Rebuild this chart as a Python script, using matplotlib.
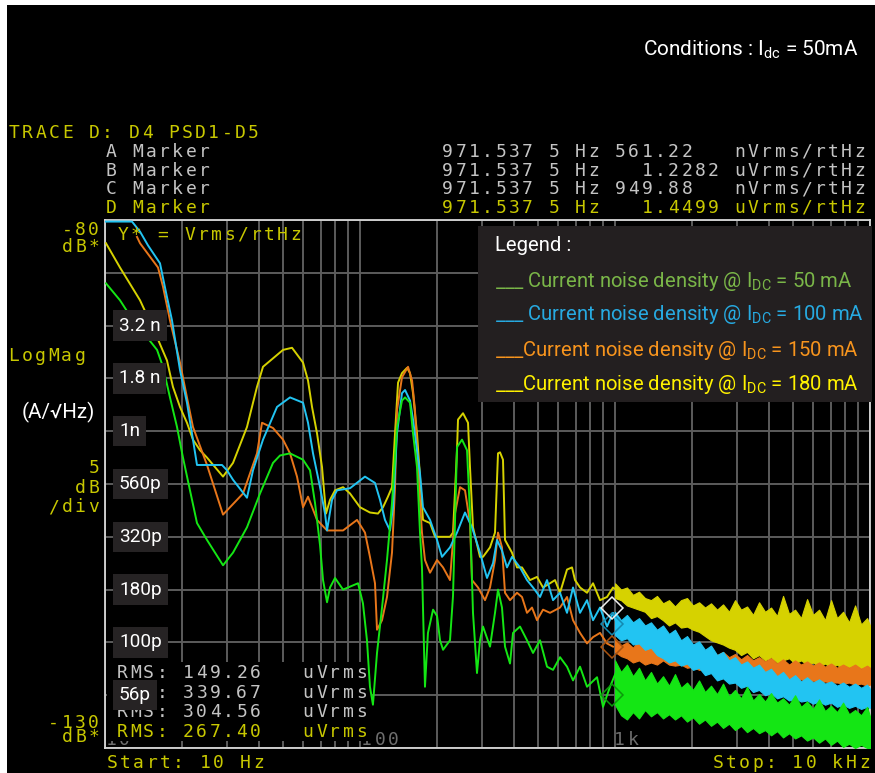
import numpy as np
import matplotlib
matplotlib.use('Agg')
import matplotlib.pyplot as plt
from matplotlib.patches import Rectangle
from matplotlib.transforms import blended_transform_factory

W, H = 875, 773

# Trace A : Idc = 50 mA  (frequency in Hz, level in dB re 1 Vrms/rtHz)
freq_a = [10.09, 11.45, 12.87, 14.61, 16.00, 16.88, 17.98, 19.16, 20.22, 21.54, 22.95, 25.12,
          29.03, 31.77, 36.04, 40.54, 45.59, 48.57, 53.16, 59.78, 63.68, 66.62, 69.70, 71.62,
          74.25, 76.29, 79.81, 85.80, 93.90, 98.24, 102.7, 106.5, 109.4, 112.4, 116.6, 122.0,
          127.6, 133.5, 139.7, 146.1, 150.2, 157.1, 161.4, 167.3, 171.9, 175.0, 179.8, 184.7,
          193.4, 200.5, 206.0, 211.7, 225.4, 231.6, 240.1, 251.2, 262.8, 270.0, 277.4, 287.6,
          295.5, 303.6, 323.5, 338.4, 347.7, 360.4, 370.4, 387.5, 398.2, 424.1, 451.8, 477.0,
          508.1, 541.3, 571.4, 608.7, 648.4, 684.5, 729.2, 776.8, 850.2, 897.6, 956.1, 1018]
lvl_a = [-86.0, -87.6, -89.5, -91.1, -92.3, -93.9, -96.8, -99.6, -102.5, -105.6, -108.7, -110.3,
         -112.7, -111.5, -109.1, -105.9, -103.0, -102.3, -102.1, -102.7, -103.7, -106.8, -110.8, -114.1,
         -116.2, -114.8, -113.9, -115.0, -114.6, -114.4, -116.3, -119.8, -124.2, -125.9, -121.0, -116.7,
         -112.2, -106.8, -99.6, -97.1, -96.8, -97.3, -100.2, -103.4, -109.6, -112.9, -124.2, -119.1,
         -116.9, -117.5, -119.8, -120.7, -119.8, -115.6, -101.5, -100.8, -101.8, -107.8, -117.2, -122.9,
         -119.8, -118.5, -120.4, -117.2, -115.0, -116.7, -120.4, -122.0, -119.1, -118.5, -119.8, -121.0,
         -119.8, -122.3, -122.6, -121.4, -122.3, -123.6, -122.3, -124.2, -123.3, -126.1, -124.2, -122.6]

# Trace B : Idc = 100 mA
freq_b = [10.0, 12.76, 13.72, 14.74, 16.43, 17.50, 18.31, 19.68, 20.96, 22.13, 22.95, 28.76,
          30.09, 31.77, 36.04, 38.06, 41.65, 47.27, 53.16, 59.78, 62.54, 65.43, 69.70, 72.92,
          74.25, 77.68, 81.26, 91.39, 104.6, 114.5, 119.8, 125.3, 131.1, 134.7, 139.7, 146.1,
          150.2, 157.1, 161.4, 167.3, 171.9, 176.6, 188.2, 200.5, 209.7, 225.4, 240.1, 258.1,
          274.9, 295.5, 314.8, 332.4, 344.6, 360.4, 377.1, 394.5, 424.1, 451.8, 477.0, 508.1,
          541.3, 571.4, 608.7, 648.4, 684.5, 729.2, 776.8, 820.1, 873.6, 930.5, 982.4, 1046]
lvl_b = [-80.15, -80.15, -81.1, -82.4, -84.1, -87.3, -89.5, -94.2, -97.3, -100.8, -103.2, -103.2,
         -103.7, -104.6, -106.3, -103.7, -100.8, -97.7, -96.8, -97.3, -99.2, -102.1, -105.3, -107.8,
         -109.4, -106.5, -105.6, -105.4, -104.3, -104.9, -106.5, -108.4, -109.4, -107.2, -100.2, -96.4,
         -96.1, -97.1, -98.9, -101.8, -104.0, -107.2, -108.4, -110.3, -111.9, -111.0, -109.6, -107.7,
         -109.1, -111.5, -113.9, -112.5, -110.3, -111.3, -112.9, -111.9, -112.9, -114.1, -114.8, -115.7,
         -114.1, -116.0, -115.3, -117.2, -114.8, -117.2, -116.0, -117.9, -116.7, -118.5, -117.2, -119.1]

# Trace C : Idc = 150 mA
freq_c = [13.35, 13.72, 16.14, 16.88, 17.98, 19.68, 20.96, 22.13, 25.12, 29.03, 34.77, 39.45,
          41.28, 45.59, 49.91, 53.16, 56.62, 59.78, 62.54, 67.83, 74.25, 85.80, 97.35, 104.6,
          109.4, 114.5, 116.6, 122.0, 127.6, 133.5, 137.2, 139.7, 146.1, 154.3, 160.0, 164.3,
          168.8, 175.0, 179.8, 188.2, 200.5, 211.7, 225.4, 235.8, 246.7, 258.1, 270.0, 274.9,
          290.3, 309.2, 323.5, 338.4, 347.7, 360.4, 370.4, 387.5, 412.8, 431.8, 451.8, 472.6,
          494.5, 522.1, 556.1, 608.7, 648.4, 684.5, 729.2, 776.8, 820.1, 873.6, 930.5, 982.4]
lvl_c = [-81.6, -82.2, -84.5, -86.3, -89.5, -93.5, -96.8, -99.6, -103.2, -107.9, -105.9, -102.1,
         -99.2, -99.7, -100.8, -102.1, -104.3, -107.2, -106.2, -108.4, -109.4, -109.4, -108.4, -109.6,
         -111.9, -114.4, -118.8, -117.9, -115.7, -111.5, -105.3, -98.0, -94.9, -93.9, -95.2, -98.0,
         -103.4, -109.6, -112.2, -113.4, -112.2, -112.9, -114.1, -107.8, -105.3, -105.6, -108.7, -114.1,
         -114.8, -116.0, -114.8, -112.2, -109.6, -111.0, -115.3, -116.0, -115.3, -115.7, -117.2, -116.7,
         -117.9, -116.9, -117.2, -116.7, -115.7, -117.9, -119.1, -120.1, -119.5, -119.1, -120.1, -120.4]

# Trace D : Idc = 180 mA
freq_d = [10.09, 11.45, 13.72, 16.00, 17.50, 18.47, 19.68, 20.96, 22.13, 23.58, 25.12, 29.03,
          31.77, 36.04, 39.45, 41.65, 49.91, 54.13, 59.78, 62.54, 64.84, 67.83, 70.97, 73.58,
          76.29, 79.81, 85.80, 91.39, 100.0, 109.4, 117.6, 123.1, 128.7, 133.5, 137.2, 141.0,
          146.1, 152.9, 157.1, 161.4, 167.3, 171.9, 176.6, 188.2, 196.9, 206.0, 225.4, 231.6,
          240.1, 242.3, 253.5, 265.2, 270.0, 277.4, 295.5, 303.6, 323.5, 338.4, 347.7, 354.0,
          363.7, 370.4, 394.5, 412.8, 431.8, 464.2, 494.5, 522.1, 556.1, 581.8, 608.7, 648.4,
          678.3, 697.0, 729.2, 776.8, 820.1, 873.6, 930.5, 982.4, 1046]
lvl_d = [-82.2, -84.5, -87.6, -91.1, -93.3, -95.8, -97.7, -99.2, -100.8, -101.8, -102.5, -104.3,
         -103.0, -99.6, -95.8, -93.9, -92.3, -92.1, -93.5, -95.2, -97.7, -100.2, -103.4, -107.8,
         -106.5, -105.6, -105.3, -105.9, -107.2, -107.7, -107.8, -107.2, -106.2, -105.3, -100.2, -95.4,
         -94.5, -94.0, -94.5, -96.4, -100.2, -104.3, -108.4, -108.7, -110.0, -110.0, -110.0, -109.6,
         -101.8, -98.9, -98.3, -99.2, -103.4, -109.1, -111.9, -111.9, -111.0, -109.6, -102.1, -102.0,
         -102.7, -110.3, -111.5, -112.9, -112.9, -114.1, -113.8, -114.8, -114.4, -114.1, -115.3, -113.1,
         -112.9, -114.1, -114.8, -115.3, -114.4, -116.0, -115.7, -114.8, -115.3]

# Above 1 kHz the traces are dense noise: upper / lower edge of each band
band_f = [1000, 1056, 1114, 1176, 1242, 1311, 1384, 1461, 1543, 1629, 1719, 1815, 1916, 2023, 2136,
          2254, 2380, 2513, 2653, 2800, 2956, 3121, 3295, 3479, 3672, 3877, 4093, 4321, 4561, 4815,
          5084, 5367, 5666, 5981, 6314, 6666, 7037, 7429, 7843, 8280, 8741, 9228, 9742, 10000]
hi_a = [-121.7, -122.8, -122.1, -123.2, -122.4, -123.6, -122.8, -123.9, -123.2, -124.1, -123.0,
        -124.3, -123.8, -124.5, -123.6, -124.7, -124.1, -124.9, -123.9, -125.1, -124.5, -125.3,
        -124.2, -125.5, -124.9, -125.6, -124.8, -125.7, -125.3, -125.9, -125.0, -126.1, -125.6,
        -126.3, -125.4, -126.5, -126.0, -126.6, -125.7, -126.8, -126.4, -126.9, -126.1, -127.0]
lo_a = [-125.9, -126.9, -127.3, -126.6, -127.2, -126.4, -127.0, -126.6, -127.2, -126.8, -127.3,
        -126.9, -127.5, -127.1, -127.7, -127.3, -127.9, -127.5, -128.1, -127.7, -128.3, -127.9,
        -128.5, -128.1, -128.6, -128.3, -128.8, -128.4, -129.0, -128.6, -129.1, -128.8, -129.3,
        -129.0, -129.5, -129.1, -129.7, -129.3, -129.9, -129.6, -130.0, -129.7, -130.0, -130.0]
hi_b = [-117.1, -117.9, -117.4, -118.1, -117.7, -118.4, -118.1, -118.8, -118.4, -119.2, -118.8,
        -119.8, -119.4, -120.2, -119.9, -120.7, -120.3, -121.2, -120.9, -121.7, -121.4, -122.1,
        -121.8, -122.4, -122.1, -122.8, -122.5, -123.2, -122.8, -123.5, -123.1, -123.7, -123.3,
        -123.8, -123.5, -123.9, -123.7, -124.1, -123.8, -124.2, -123.9, -124.3, -124.0, -124.4]
lo_b = [-119.3, -119.8, -119.6, -120.2, -120.1, -120.7, -120.5, -121.2, -121.5, -121.9, -121.7,
        -122.2, -122.0, -122.6, -122.4, -123.1, -122.9, -123.6, -123.4, -123.9, -123.8, -124.3,
        -124.1, -124.7, -124.5, -125.0, -124.8, -125.3, -125.1, -125.5, -125.3, -125.6, -125.5,
        -125.8, -125.6, -125.9, -125.7, -126.1, -125.9, -126.2, -126.0, -126.3, -126.1, -126.2]
hi_c = [-119.6, -120.3, -120.0, -120.5, -119.8, -120.3, -120.0, -120.5, -119.9, -120.4, -120.1,
        -120.6, -120.3, -120.8, -120.5, -121.0, -120.7, -121.2, -120.9, -121.4, -121.1, -121.6,
        -121.2, -121.7, -121.4, -121.8, -121.5, -122.0, -121.6, -122.1, -121.7, -122.1, -121.8,
        -122.2, -121.9, -122.3, -122.0, -122.4, -122.1, -122.4, -122.1, -122.5, -122.2, -122.4]
lo_c = [-120.9, -121.3, -121.5, -121.9, -121.7, -122.1, -121.9, -122.1, -121.7, -122.1, -122.2,
        -122.1, -122.4, -122.3, -122.6, -122.5, -122.8, -122.7, -123.0, -122.9, -123.1, -123.0,
        -123.2, -123.1, -123.3, -123.2, -123.4, -123.3, -123.5, -123.4, -123.6, -123.5, -123.7,
        -123.6, -123.8, -123.7, -123.8, -123.8, -123.9, -123.8, -124.0, -123.9, -124.1, -124.0]
hi_d = [-114.4, -115.0, -114.8, -115.5, -115.2, -115.8, -116.0, -115.6, -116.3, -116.0, -116.6,
        -116.0, -115.8, -116.5, -116.2, -116.7, -116.3, -116.9, -116.4, -117.1, -116.0, -116.9,
        -116.6, -117.4, -116.2, -117.1, -116.7, -117.5, -115.6, -117.3, -116.9, -117.7, -115.9,
        -117.4, -116.9, -117.9, -116.0, -117.7, -117.1, -118.1, -116.5, -118.3, -117.7, -118.4]
lo_d = [-115.8, -116.0, -116.5, -116.7, -116.9, -117.1, -117.7, -117.5, -117.9, -118.4, -118.1,
        -118.6, -118.5, -118.8, -119.0, -119.4, -119.8, -120.0, -120.2, -120.5, -120.7, -121.2,
        -120.9, -121.5, -121.2, -121.7, -121.4, -121.9, -121.7, -121.5, -122.0, -121.7, -122.1,
        -121.9, -122.3, -122.0, -122.4, -122.1, -122.6, -122.3, -122.8, -122.4, -122.8, -122.6]

# Marker readouts (Vrms/rtHz) and integrated RMS (uVrms)
marker_f = 971.5375
marker_v = [561.22e-9, 1.2282e-6, 949.88e-9, 1.4499e-6]
rms_uv = [149.26, 339.67, 304.56, 267.40]

# Labels in A/rtHz at every 5 dB from -90 to -125
ylab_txt = ['3.2 n', '1.8 n', '1n', '560p', '320p', '180p', '100p', '56p']
ylab_db = [-90, -95, -100, -105, -110, -115, -120, -125]

legend_txt = ['50 mA', '100 mA', '150 mA', '180 mA']

c_a, c_b, c_c, c_d = '#14e614', '#22c4f2', '#e8761a', '#d6d200'
leg_col = ['#7ab648', '#27aae1', '#f7941d', '#fff200']
yel, gry = '#c8c800', '#c4c4c4'
sans = 'Roboto'

fig = plt.figure(figsize=(W / 100, H / 100), dpi=100, facecolor='white')
fig.add_artist(Rectangle((7 / W, 0), 1, 1 - 5 / H, transform=fig.transFigure,
                         facecolor='black', edgecolor='none', zorder=-10))

ax = fig.add_axes([105 / W, 1 - 748 / H, 765 / W, 528 / H])
ax.set_facecolor('black')
ax.set_xscale('log')
ax.set_xlim(10, 10000)
ax.set_ylim(-130, -80)
ax.set_xticks([10, 100, 1000, 10000])
ax.set_xticks([m * d for d in (10, 100, 1000) for m in range(2, 10)], minor=True)
ax.set_yticks(np.arange(-130, -79, 5))
ax.tick_params(which='both', length=0, labelbottom=False, labelleft=False)
ax.grid(which='both', color='#5c5c5c', lw=1.4, zorder=0.5)
ax.set_axisbelow(True)
for sp in ax.spines.values():
    sp.set_color('#d8d8d8')
    sp.set_linewidth(1.3)


def px(x, y):
    return x / W, 1 - y / H


def mono(x0, base, s, color, target=None, z=5, pitch=13.3):
    # fixed pitch text like the analyser screen
    tgt = fig if target is None else target
    for i, ch in enumerate(s):
        if ch == ' ':
            continue
        tgt.text(*px(x0 + pitch * (i + 0.5), base), ch, transform=fig.transFigure,
                 ha='center', va='baseline', family='DejaVu Sans Mono', fontsize=13,
                 color=color, zorder=z)


def fit(ref, texts, width):
    # scale font size so that ref spans the given pixel width
    r = fig.canvas.get_renderer()
    k = width / ref.get_window_extent(r).width
    for t in texts:
        t.set_fontsize(t.get_fontsize() * k)


# frequency labels under the traces
for lab, x0 in [('10', 104.5), ('100', 360), ('1k', 613)]:
    mono(x0, 745, lab, '#6e6e6e', target=ax, z=1.2)

# RMS block with black background
ax.add_patch(Rectangle(px(107, 741), (372 - 107) / W, (741 - 662) / H, transform=fig.transFigure,
                       facecolor='black', edgecolor='none', zorder=1.5))
for i, v in enumerate(rms_uv):
    mono(115.3, 678 + 19.6 * i, f'RMS: {v:6.2f}   uVrms', yel if i == 3 else gry, target=ax, z=1.6)

# traces
for f, l, hi, lo, col, z in [(freq_d, lvl_d, hi_d, lo_d, c_d, 3), (freq_c, lvl_c, hi_c, lo_c, c_c, 4),
                             (freq_b, lvl_b, hi_b, lo_b, c_b, 5), (freq_a, lvl_a, hi_a, lo_a, c_a, 6)]:
    ax.fill_between(band_f, lo, hi, color=col, lw=0.8, zorder=z)
    ax.plot(f, l, color=col, lw=1.4, zorder=z)

# markers at 971.5 Hz
marker_db = [20 * np.log10(v) for v in marker_v]
for v, mc in zip(marker_db, ['#0a9a0a', '#1488b0', '#a8520e', '#f0f0f0']):
    ax.plot([marker_f], [v], 'D', mfc='none', mec=mc, ms=11, mew=1.1, zorder=7)

mono(116.4, 240, 'Y* = Vrms/rtHz', yel, target=ax, z=8)

# header
mono(7.4, 138, 'TRACE D: D4 PSD1-D5', yel)
for i, (name, v) in enumerate(zip('ABCD', marker_v)):
    col = yel if name == 'D' else gry
    base = 157 + 18.6 * i
    val = f'{v * 1e9:6.2f}   nVrms/rtHz' if v < 1e-6 else f'{v * 1e6:8.4f} uVrms/rtHz'
    mono(104.4, base, name + ' Marker', col)
    mono(440.8, base, '971.537 5 Hz ' + val, col)

# left scale text
mono(60.5, 235, '-80', yel)
mono(60.5, 252, 'dB*', yel)
mono(6.8, 361, 'LogMag', yel)
mono(87.4, 473, '5', yel)
mono(74.0, 493, 'dB', yel)
mono(47.0, 512, '/div', yel)
mono(47.0, 728, '-130', yel)
mono(60.5, 742, 'dB*', yel)
mono(105.3, 768, 'Start: 10 Hz', yel)
mono(711.3, 768, 'Stop: 10 kHz', yel)

# A/rtHz scale boxes
tr = blended_transform_factory(fig.transFigure, ax.transData)
ylabs = []
for t, db in zip(ylab_txt, ylab_db):
    ylabs.append(fig.text(119 / W, db, t, transform=tr, ha='left', va='center', color='white',
                          fontsize=17, family=sans, zorder=10,
                          bbox=dict(boxstyle='square,pad=0.32', facecolor='#262324', edgecolor='none')))
fit(ylabs[3], ylabs, 43)
unit = fig.text(*px(22, 418), '(A/\u221aHz)', color='white', fontsize=17, family=sans, va='baseline')
fit(unit, [unit], 73)

# legend
fig.add_artist(Rectangle(px(478, 402), (872 - 478) / W, (402 - 226) / H, transform=fig.transFigure,
                         facecolor='#231f20', edgecolor='none', zorder=9))
leg = [fig.text(*px(495, 251), 'Legend :', color='white', fontsize=16, family=sans,
                va='baseline', zorder=10)]
for i, (t, col) in enumerate(zip(legend_txt, leg_col)):
    lead = '___ ' if i < 2 else '___'
    leg.append(fig.text(*px(495, [287, 320, 356, 390][i]),
                        lead + r'Current noise density @ I$_{\mathregular{DC}}$ = ' + t,
                        color=col, fontsize=16, family=sans, va='baseline', zorder=10))
fit(leg[2], leg, 370)

cond = fig.text(*px(643, 55), r'Conditions : I$_{\mathregular{dc}}$ = 50mA', color='white',
                fontsize=16, family=sans, va='baseline')
fit(cond, [cond], 216)

fig.savefig('out.png', dpi=100, facecolor=fig.get_facecolor())
